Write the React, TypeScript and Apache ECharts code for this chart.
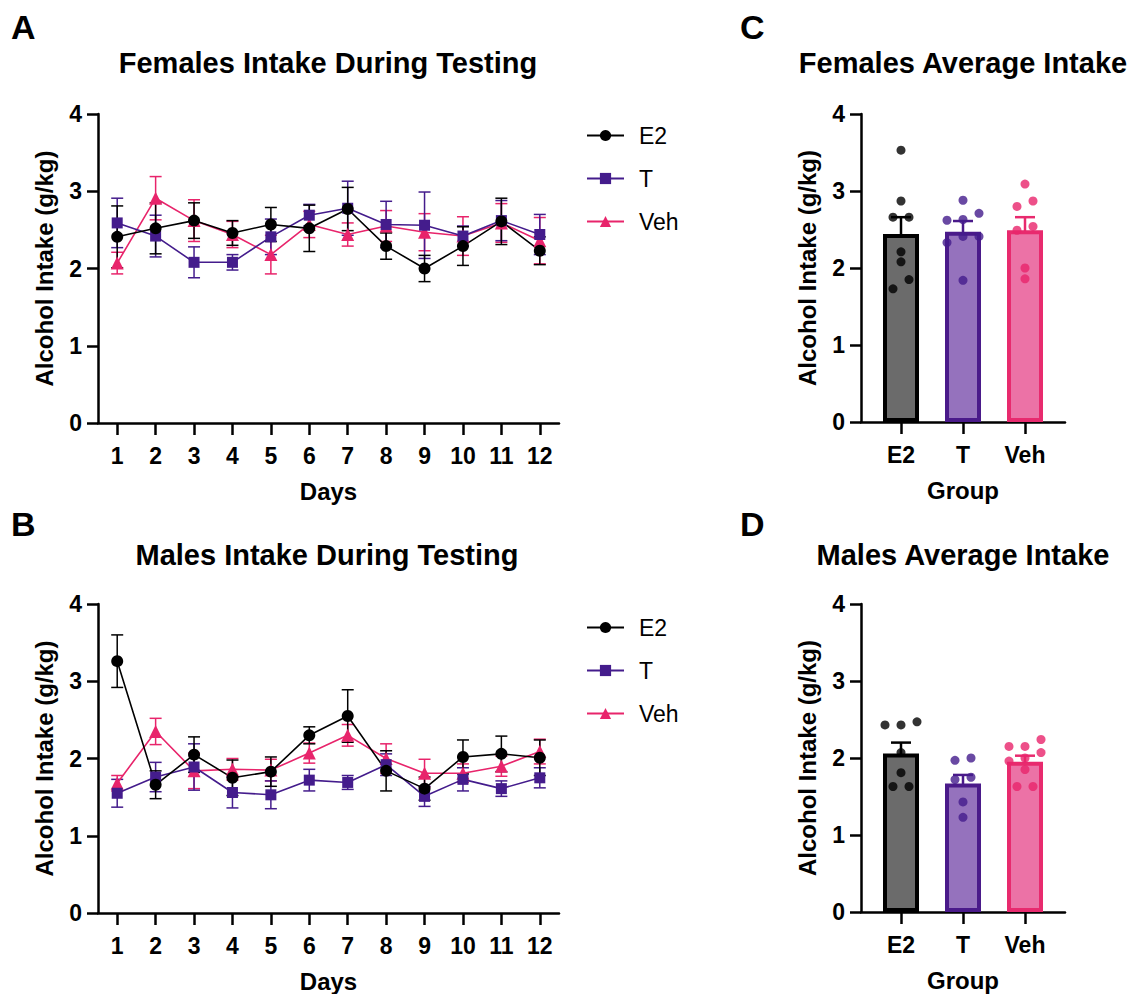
import React, { useEffect, useRef } from "react";
import * as echarts from "echarts";

// ---------- data ----------
const days = ["1", "2", "3", "4", "5", "6", "7", "8", "9", "10", "11", "12"];
const groups = ["E2", "T", "Veh"];

const femE2Mean = [2.41, 2.52, 2.62, 2.46, 2.57, 2.52, 2.77, 2.29, 2.0, 2.29, 2.61, 2.23];
const femE2Sem = [0.4, 0.33, 0.23, 0.16, 0.22, 0.3, 0.28, 0.17, 0.17, 0.25, 0.3, 0.18];
const femTMean = [2.59, 2.42, 2.08, 2.08, 2.41, 2.69, 2.78, 2.57, 2.56, 2.42, 2.62, 2.44];
const femTSem = [0.32, 0.27, 0.2, 0.1, 0.23, 0.14, 0.35, 0.3, 0.43, 0.13, 0.26, 0.26];
const femVehMean = [2.07, 2.91, 2.62, 2.44, 2.18, 2.57, 2.44, 2.55, 2.47, 2.42, 2.59, 2.36];
const femVehSem = [0.14, 0.28, 0.27, 0.17, 0.25, 0.17, 0.15, 0.2, 0.24, 0.25, 0.25, 0.3];

const maleE2Mean = [3.26, 1.66, 2.05, 1.75, 1.83, 2.3, 2.55, 1.84, 1.61, 2.02, 2.06, 2.01];
const maleE2Sem = [0.34, 0.18, 0.23, 0.23, 0.19, 0.11, 0.34, 0.26, 0.15, 0.22, 0.23, 0.23];
const maleTMean = [1.55, 1.76, 1.89, 1.56, 1.53, 1.72, 1.69, 1.92, 1.51, 1.73, 1.61, 1.75];
const maleTSem = [0.18, 0.19, 0.3, 0.2, 0.18, 0.14, 0.09, 0.14, 0.13, 0.15, 0.1, 0.13];
const maleVehMean = [1.68, 2.35, 1.84, 1.86, 1.85, 2.07, 2.3, 2.0, 1.81, 1.81, 1.9, 2.09];
const maleVehSem = [0.1, 0.17, 0.23, 0.14, 0.14, 0.13, 0.14, 0.19, 0.18, 0.12, 0.13, 0.16];

const femAvgMean = [2.44, 2.47, 2.49];
const femAvgSem = [0.22, 0.14, 0.17];
const maleAvgMean = [2.06, 1.67, 1.95];
const maleAvgSem = [0.14, 0.11, 0.08];

const femE2Pts = [3.53, 2.87, 2.66, 2.66, 2.21, 2.08, 1.85, 1.73];
const femTPts = [2.88, 2.71, 2.62, 2.63, 2.41, 2.41, 2.33, 1.84];
const femVehPts = [3.09, 2.87, 2.8, 2.54, 2.49, 2.0, 1.86];
const maleE2Pts = [2.47, 2.43, 2.43, 2.07, 1.81, 1.63, 1.63];
const maleTPts = [2.0, 1.97, 1.75, 1.72, 1.43, 1.23];
const maleVehPts = [2.24, 2.15, 2.15, 2.07, 2.0, 1.96, 1.85, 1.63, 1.63];

const yTicks = [0, 1, 2, 3, 4];

// ---------- styles ----------
const FONT = "'Liberation Sans', Arial, Helvetica, sans-serif";
const C_E2 = "#000000";
const C_T = "#441c8c";
const C_VEH = "#e8246b";
const lineColors = [C_E2, C_T, C_VEH];
const barFills = ["#6b6b6b", "#9572bd", "#ec72a6"];
const barBorders = ["#000000", "#4a1a8a", "#e82a6e"];

function swarm(values: number[], group: number) {
  const sorted = [...values].sort((a, b) => b - a);
  const rows: number[][] = [];
  sorted.forEach((v) => {
    const last = rows[rows.length - 1];
    if (last && last[0] - v <= 0.125) last.push(v);
    else rows.push([v]);
  });
  const out: number[][] = [];
  rows.forEach((row) => {
    const asc = [...row].sort((a, b) => a - b);
    const n = asc.length;
    asc.forEach((v, i) => out.push([group + ((i - (n - 1) / 2) * 16) / 62, v]));
  });
  return out;
}

function errSeries(
  name: string,
  xi: number,
  yi: number,
  means: number[],
  sems: number[],
  colors: string[],
  capHalf: number,
  width: number
) {
  return {
    type: "custom",
    name,
    xAxisIndex: xi,
    yAxisIndex: yi,
    silent: true,
    data: means.map((m, i) => [i, m, sems[i]]),
    encode: { x: 0, y: 1 },
    renderItem: (params: any, api: any) => {
      const x = api.value(0);
      const m = api.value(1);
      const s = api.value(2);
      const top = api.coord([x, m + s]);
      const bot = api.coord([x, m - s]);
      const color = colors[params.dataIndex % colors.length];
      const st = { stroke: color, lineWidth: width };
      return {
        type: "group",
        children: [
          { type: "line", shape: { x1: top[0], y1: top[1], x2: bot[0], y2: bot[1] }, style: st },
          { type: "line", shape: { x1: top[0] - capHalf, y1: top[1], x2: top[0] + capHalf, y2: top[1] }, style: st },
          { type: "line", shape: { x1: bot[0] - capHalf, y1: bot[1], x2: bot[0] + capHalf, y2: bot[1] }, style: st },
        ],
      };
    },
  };
}

const axisLine = { show: true, lineStyle: { color: "#000", width: 2.5 } };
const tickLabel = { color: "#000", fontFamily: FONT, fontWeight: "bold", fontSize: 23 };
const nameStyle = { color: "#000", fontFamily: FONT, fontWeight: "bold", fontSize: 24 };

function yAxisVisible(grid: number) {
  return {
    type: "value",
    gridIndex: grid,
    min: 0,
    max: 4,
    interval: 1,
    axisLine,
    axisTick: { show: true, length: 11, lineStyle: { color: "#000", width: 2.5 } },
    axisLabel: { ...tickLabel, margin: 16, formatter: (v: number) => (yTicks.includes(v) ? String(v) : "") },
    splitLine: { show: false },
    name: "Alcohol Intake (g/kg)",
    nameLocation: "middle",
    nameGap: 42,
    nameTextStyle: nameStyle,
  };
}

function yAxisHidden(grid: number) {
  return { type: "value", gridIndex: grid, min: 0, max: 4, show: false };
}

function catAxis(grid: number, data: string[], name: string, showLine: boolean) {
  return {
    type: "category",
    gridIndex: grid,
    data,
    boundaryGap: true,
    axisLine: showLine ? axisLine : { show: false },
    axisTick: { show: true, alignWithLabel: true, length: 12, lineStyle: { color: "#000", width: 2.5 } },
    axisLabel: { ...tickLabel, margin: 21 },
    splitLine: { show: false },
    name,
    nameLocation: "middle",
    nameGap: 56,
    nameTextStyle: nameStyle,
  };
}

function lineSeries(name: string, xi: number, yi: number, data: number[], color: string, symbol: string, size: number) {
  return {
    type: "line",
    name,
    xAxisIndex: xi,
    yAxisIndex: yi,
    data,
    symbol,
    symbolSize: size,
    showAllSymbol: true,
    lineStyle: { color, width: 1.6 },
    itemStyle: { color },
  };
}

function barSeries(name: string, xi: number, yi: number, means: number[]) {
  return {
    type: "bar",
    name,
    xAxisIndex: xi,
    yAxisIndex: yi,
    barWidth: 36,
    data: means.map((v, i) => ({
      value: v,
      itemStyle: { color: barFills[i], borderColor: barBorders[i], borderWidth: 4 },
    })),
  };
}

function dotSeries(name: string, xi: number, yi: number, pts: number[][]) {
  return {
    type: "scatter",
    name,
    xAxisIndex: xi,
    yAxisIndex: yi,
    symbolSize: 9,
    data: pts.map((p) => ({ value: p, itemStyle: { color: lineColors[Math.round(p[0])] } })),
  };
}

function legendAt(top: number) {
  return {
    data: ["E2", "T", "Veh"],
    orient: "vertical",
    left: 586,
    top,
    padding: 0,
    itemWidth: 37,
    itemHeight: 14,
    itemGap: 20,
    selectedMode: false,
    textStyle: { color: "#000", fontFamily: FONT, fontSize: 23, padding: [0, 0, 0, 10] },
  };
}

function titleAt(text: string, left: number, top: number, size: number, align: string) {
  return {
    text,
    left,
    top,
    padding: 0,
    textAlign: align,
    textStyle: { color: "#000", fontFamily: FONT, fontWeight: "bold", fontSize: size },
  };
}

export default function App() {
  const ref = useRef<HTMLDivElement>(null);
  useEffect(() => {
    if (!ref.current) return;
    const chart = echarts.init(ref.current, undefined, { renderer: "svg" });
    const option: any = {
      animation: false,
      backgroundColor: "#ffffff",
      title: [
        titleAt("A", 11, 10, 34, "left"),
        titleAt("B", 11, 507, 34, "left"),
        titleAt("C", 740, 10, 34, "left"),
        titleAt("D", 740, 507, 34, "left"),
        titleAt("Females Intake During Testing", 328, 48, 29, "center"),
        titleAt("Males Intake During Testing", 327, 540, 29, "center"),
        titleAt("Females Average Intake", 963, 48, 29, "center"),
        titleAt("Males Average Intake", 963, 540, 29, "center"),
      ],
      legend: [legendAt(124), legendAt(616)],
      grid: [
        { left: 98, top: 114, width: 461, height: 309, containLabel: false },
        { left: 98, top: 604, width: 461, height: 309, containLabel: false },
        { left: 861, top: 114, width: 204, height: 308, containLabel: false },
        { left: 861, top: 604, width: 204, height: 308, containLabel: false },
        { left: 870, top: 114, width: 186, height: 308, containLabel: false },
        { left: 870, top: 604, width: 186, height: 308, containLabel: false },
      ],
      xAxis: [
        catAxis(0, days, "Days", true),
        catAxis(1, days, "Days", true),
        { type: "value", gridIndex: 2, min: 0, max: 1, axisLine, axisTick: { show: false }, axisLabel: { show: false }, splitLine: { show: false } },
        { type: "value", gridIndex: 3, min: 0, max: 1, axisLine, axisTick: { show: false }, axisLabel: { show: false }, splitLine: { show: false } },
        catAxis(4, groups, "Group", false),
        catAxis(5, groups, "Group", false),
        { type: "value", gridIndex: 4, min: -0.5, max: 2.5, show: false },
        { type: "value", gridIndex: 5, min: -0.5, max: 2.5, show: false },
      ],
      yAxis: [yAxisVisible(0), yAxisVisible(1), yAxisVisible(2), yAxisVisible(3), yAxisHidden(4), yAxisHidden(5)],
      series: [
        // Panel A
        errSeries("Veh SEM A", 0, 0, femVehMean, femVehSem, [C_VEH], 6, 1.5),
        lineSeries("Veh", 0, 0, femVehMean, C_VEH, "triangle", 13),
        errSeries("T SEM A", 0, 0, femTMean, femTSem, [C_T], 6, 1.5),
        lineSeries("T", 0, 0, femTMean, C_T, "rect", 11),
        errSeries("E2 SEM A", 0, 0, femE2Mean, femE2Sem, [C_E2], 6, 1.5),
        lineSeries("E2", 0, 0, femE2Mean, C_E2, "circle", 12),
        // Panel B
        errSeries("Veh SEM B", 1, 1, maleVehMean, maleVehSem, [C_VEH], 6, 1.5),
        lineSeries("Veh", 1, 1, maleVehMean, C_VEH, "triangle", 13),
        errSeries("T SEM B", 1, 1, maleTMean, maleTSem, [C_T], 6, 1.5),
        lineSeries("T", 1, 1, maleTMean, C_T, "rect", 11),
        errSeries("E2 SEM B", 1, 1, maleE2Mean, maleE2Sem, [C_E2], 6, 1.5),
        lineSeries("E2", 1, 1, maleE2Mean, C_E2, "circle", 12),
        // Panel C
        barSeries("Females average", 4, 4, femAvgMean),
        errSeries("Females average SEM", 4, 4, femAvgMean, femAvgSem, barBorders, 10, 2.5),
        dotSeries("Females individuals", 6, 4, [...swarm(femE2Pts, 0), ...swarm(femTPts, 1), ...swarm(femVehPts, 2)]),
        // Panel D
        barSeries("Males average", 5, 5, maleAvgMean),
        errSeries("Males average SEM", 5, 5, maleAvgMean, maleAvgSem, barBorders, 10, 2.5),
        dotSeries("Males individuals", 7, 5, [...swarm(maleE2Pts, 0), ...swarm(maleTPts, 1), ...swarm(maleVehPts, 2)]),
      ],
    };
    chart.setOption(option);
    return () => chart.dispose();
  }, []);
  return <div ref={ref} style={{ position: "absolute", left: 0, top: 0, width: 1133, height: 994 }} />;
}
